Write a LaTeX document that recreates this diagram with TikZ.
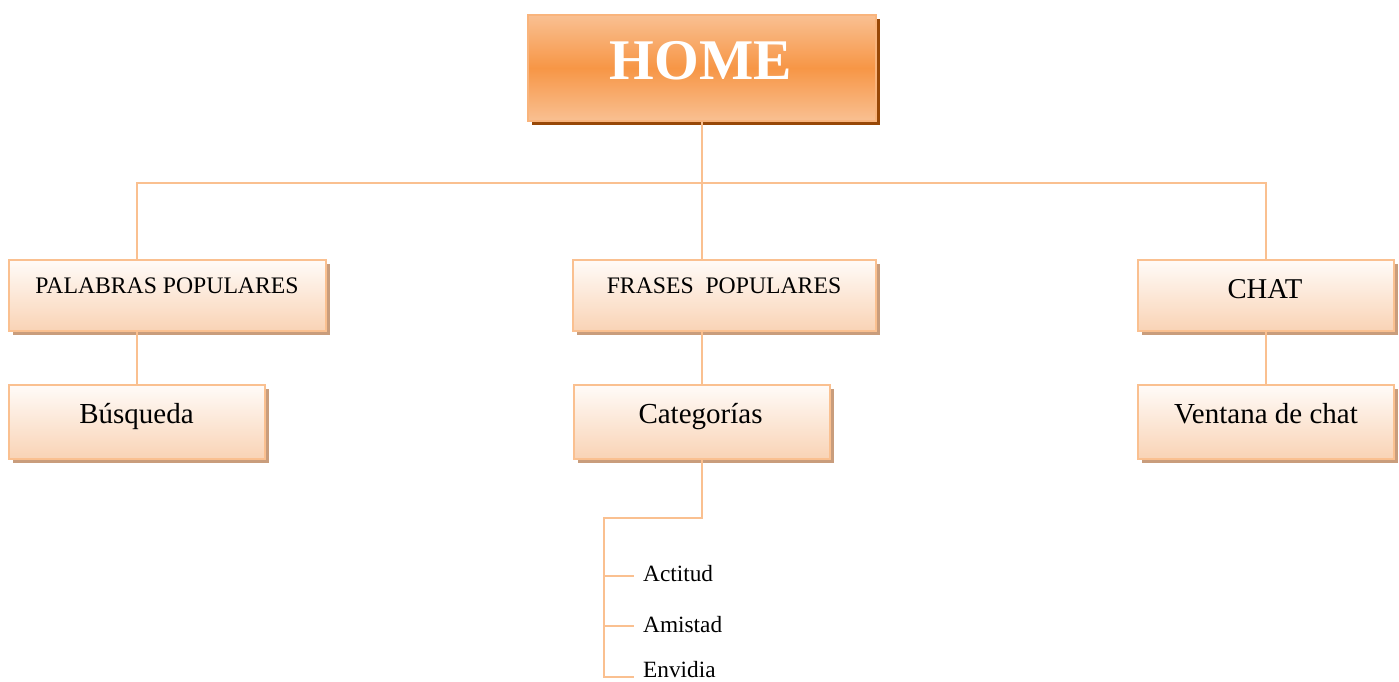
\documentclass[tikz,border=0pt]{standalone}
\usepackage{fontspec}
\setmainfont{Liberation Serif}
\usetikzlibrary{shadows}
\definecolor{conn}{HTML}{FAC090}
\definecolor{peachtop}{HTML}{FFFBF8}
\definecolor{peachbot}{HTML}{F9D3B5}
\definecolor{peachedge}{HTML}{FAC090}
\definecolor{tan}{HTML}{C99D7C}
\definecolor{hometop}{HTML}{F9C092}
\definecolor{homemid}{HTML}{F79646}
\definecolor{homeedge}{HTML}{F9B47C}
\definecolor{homeshadow}{HTML}{984807}
\tikzset{
  peachbox/.style={draw=peachedge, line width=2pt, top color=peachtop, bottom color=peachbot, inner sep=0pt,
    drop shadow={shadow xshift=4pt, shadow yshift=-4pt, fill=tan, opacity=1}},
  homebox/.style={draw=homeedge, line width=2pt, top color=hometop, bottom color=hometop, middle color=homemid, inner sep=0pt,
    drop shadow={shadow xshift=4pt, shadow yshift=-4pt, fill=homeshadow, opacity=1}},
  link/.style={draw=conn, line width=2.5pt},
  lbl/.style={anchor=base, inner sep=0pt},
  big/.style={font=\fontsize{29}{32}\selectfont},
  mid/.style={font=\fontsize{23.7}{26}\selectfont},
  leaf/.style={anchor=base west, inner sep=0pt, font=\fontsize{23.3}{26}\selectfont},
}
\begin{document}
\begin{tikzpicture}[x=1pt,y=-1pt]
\useasboundingbox (0,0) rectangle (1399,682);
\coordinate (hl) at (137,183);
\coordinate (hr) at (1266,183);
\coordinate (ct) at (604,518);
\coordinate (cb) at (604,677);
% boxes
\node[homebox, minimum width=348pt, minimum height=106pt] (home) at (702,68) {};
\node[peachbox, minimum width=317pt, minimum height=71pt] (pal) at (167.5,295.5) {};
\node[peachbox, minimum width=303pt, minimum height=71pt] (fra) at (724.5,295.5) {};
\node[peachbox, minimum width=256pt, minimum height=71pt] (chat) at (1266,295.5) {};
\node[peachbox, minimum width=256pt, minimum height=74pt] (bus) at (137,422) {};
\node[peachbox, minimum width=256pt, minimum height=74pt] (cat) at (702,422) {};
\node[peachbox, minimum width=256pt, minimum height=74pt] (ven) at (1266,422) {};
% texts
\node[lbl, text=white, font=\bfseries\fontsize{57.5}{60}\selectfont] (homet) at (701,80) {HOME};
\node[lbl, mid] (palt) at (167,293) {PALABRAS POPULARES};
\node[lbl, mid] (frat) at (724,293) {FRASES\ \ POPULARES};
\node[lbl, font=\fontsize{28.7}{32}\selectfont] (chatt) at (1265,298) {CHAT};
\node[lbl, big] (bust) at (136.5,423) {Búsqueda};
\node[lbl, big] (catt) at (700.5,423) {Categorías};
\node[lbl, big] (vent) at (1266,423) {Ventana de chat};
\node[leaf] (act) at (643,581.7) {Actitud};
\node[leaf] (ami) at (643,632) {Amistad};
\node[leaf] (env) at (643,677) {Envidia};
% connectors
\path[link] (home.south) -- (home.south |- hl);
\path[link] (pal.north -| bus.north) -- (hl) -- (hr) -- (chat.north);
\path[link] (home.south |- hl) -- (home.south |- fra.north);
\path[link] (pal.south -| bus.north) -- (bus.north);
\path[link] (fra.south -| cat.north) -- (cat.north);
\path[link] (chat.south) -- (ven.north);
\path[link] (cat.south) |- (ct) -- (cb) -- ++(30,0);
\path[link] (ct) ++(0,58) -- ++(30,0);
\path[link] (ct) ++(0,108) -- ++(30,0);
\end{tikzpicture}
\end{document}
